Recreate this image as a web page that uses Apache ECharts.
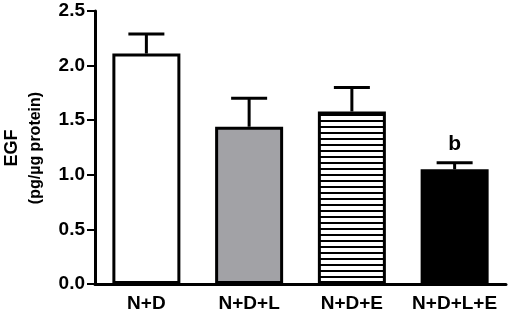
<!DOCTYPE html>
<html>
<head>
<meta charset="utf-8">
<script src="https://cdn.jsdelivr.net/npm/echarts@6/dist/echarts.min.js"></script>
<style>
html,body{margin:0;padding:0;background:#fff;}
#c{width:510px;height:315px;}
</style>
</head>
<body>
<div id="c"></div>
<script>
var categories = ['N+D', 'N+D+L', 'N+D+E', 'N+D+L+E'];
var means = [2.11, 1.44, 1.58, 1.05];
var upperErr = [2.29, 1.70, 1.80, 1.11];
var sigLabels = ['', '', '', 'b'];
var yTicks = [0, 0.5, 1.0, 1.5, 2.0, 2.5];
var yTitle = 'EGF';
var ySubTitle = '(pg/µg protein)';

var FONT = '"Liberation Sans", Arial, sans-serif';

// horizontal stripe pattern
var pc = document.createElement('canvas');
pc.width = 8; pc.height = 6;
var pctx = pc.getContext('2d');
pctx.fillStyle = '#fff';
pctx.fillRect(0, 0, 8, 6);
pctx.fillStyle = '#000';
pctx.fillRect(0, 0, 8, 2);

var fills = ['#ffffff', '#a2a2a6', {image: pc, repeat: 'repeat'}, '#000000'];

var chart = echarts.init(document.getElementById('c'), null, {renderer: 'canvas'});
chart.setOption({
  animation: false,
  backgroundColor: '#fff',
  grid: {left: 95, right: 4, top: 11, bottom: 31, containLabel: false},
  graphic: [
    {type: 'text', x: 12, y: 148, rotation: Math.PI / 2,
      style: {text: yTitle, fontFamily: FONT, fontWeight: 'bold', fontSize: 18, fill: '#000', align: 'center', verticalAlign: 'middle'}},
    {type: 'text', x: 36, y: 148, rotation: Math.PI / 2,
      style: {text: ySubTitle, fontFamily: FONT, fontWeight: 'bold', fontSize: 16, fill: '#000', align: 'center', verticalAlign: 'middle'}}
  ],
  xAxis: {
    type: 'category',
    data: categories,
    axisLine: {lineStyle: {color: '#000', width: 3}},
    axisTick: {alignWithLabel: true, length: 6, lineStyle: {color: '#000', width: 2}},
    axisLabel: {interval: 0, color: '#000', fontFamily: FONT, fontWeight: 'bold', fontSize: 19, margin: 10}
  },
  yAxis: {
    type: 'value',
    min: yTicks[0],
    max: yTicks[yTicks.length - 1],
    interval: 0.5,
    splitLine: {show: false},
    axisLine: {show: true, lineStyle: {color: '#000', width: 3}},
    axisTick: {show: true, length: 8, lineStyle: {color: '#000', width: 2}},
    axisLabel: {color: '#000', fontFamily: FONT, fontWeight: 'bold', fontSize: 19, margin: 10,
      formatter: function (v) { return v.toFixed(1); }}
  },
  series: [
    {
      type: 'bar',
      barWidth: 68,
      data: means.map(function (v, i) {
        return {value: v, itemStyle: {color: fills[i], borderColor: '#000', borderWidth: 3}};
      }),
      z: 2
    },
    {
      type: 'custom',
      z: 3,
      data: categories.map(function (c, i) { return [i, means[i], upperErr[i]]; }),
      renderItem: function (params, api) {
        var i = params.dataIndex;
        var p0 = api.coord([api.value(0), api.value(1)]);
        var p1 = api.coord([api.value(0), api.value(2)]);
        var half = 18;
        var children = [
          {type: 'line', shape: {x1: p0[0], y1: p0[1], x2: p1[0], y2: p1[1]}, style: {stroke: '#000', lineWidth: 3}},
          {type: 'line', shape: {x1: p1[0] - half, y1: p1[1], x2: p1[0] + half, y2: p1[1]}, style: {stroke: '#000', lineWidth: 3}}
        ];
        if (sigLabels[i]) {
          children.push({type: 'text', x: p1[0], y: p1[1] - 8,
            style: {text: sigLabels[i], fontFamily: FONT, fontWeight: 'bold', fontSize: 21, fill: '#000', align: 'center', verticalAlign: 'bottom'}});
        }
        return {type: 'group', children: children};
      }
    }
  ]
});
</script>
</body>
</html>
